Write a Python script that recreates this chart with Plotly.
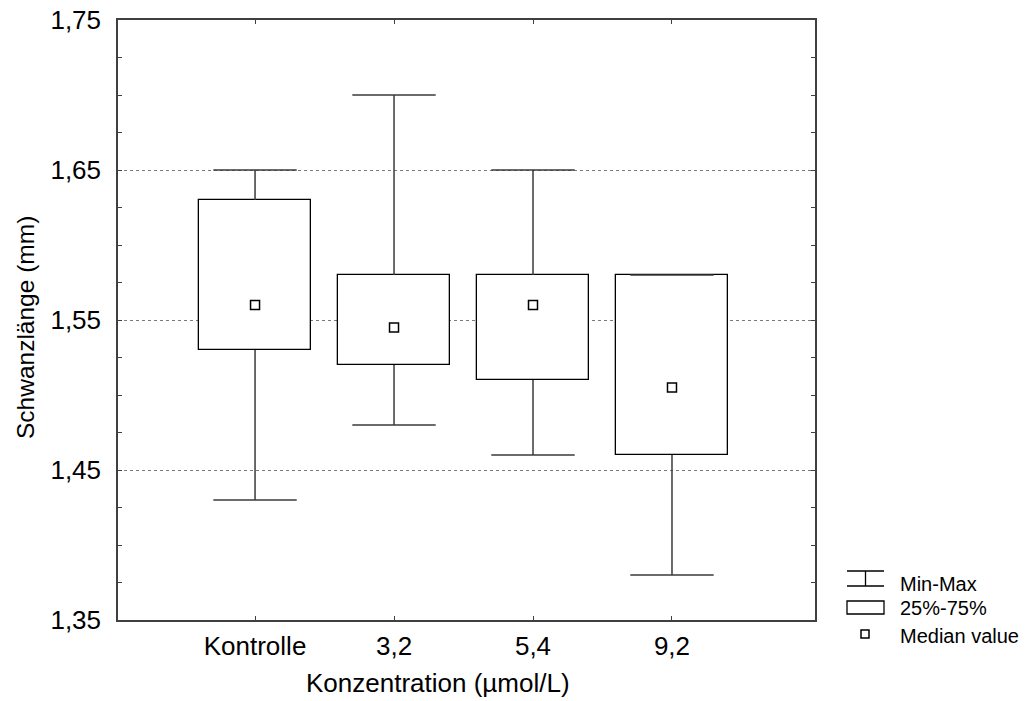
import plotly.graph_objects as go

categories = ["Kontrolle", "3,2", "5,4", "9,2"]
minimum = [1.43, 1.48, 1.46, 1.38]
q1 = [1.53, 1.52, 1.51, 1.46]
median = [1.56, 1.545, 1.56, 1.505]
q3 = [1.63, 1.58, 1.58, 1.58]
maximum = [1.65, 1.70, 1.65, 1.58]
y_ticks = [1.35, 1.45, 1.55, 1.65, 1.75]
y_ticklabels = ["1,35", "1,45", "1,55", "1,65", "1,75"]

pos = list(range(len(categories)))
BOX_W = 0.8
CAP_HW = 0.3
FONT = "Arial, Liberation Sans, sans-serif"
WCOL = "#3a3a3a"

fig = go.Figure()

# boxes (25%-75%)
fig.add_trace(go.Bar(
    x=pos, base=q1, y=[b - a for a, b in zip(q1, q3)], width=BOX_W,
    marker=dict(color="white", line=dict(color="black", width=1.3)),
    name="25%-75%", showlegend=False, hoverinfo="skip"))

# whiskers (Min-Max)
wx, wy = [], []
for i in pos:
    if maximum[i] > q3[i]:
        wx += [i, i, None]
        wy += [q3[i], maximum[i], None]
    wx += [i - CAP_HW, i + CAP_HW, None]
    wy += [maximum[i], maximum[i], None]
    if minimum[i] < q1[i]:
        wx += [i, i, None]
        wy += [q1[i], minimum[i], None]
    wx += [i - CAP_HW, i + CAP_HW, None]
    wy += [minimum[i], minimum[i], None]
fig.add_trace(go.Scatter(x=wx, y=wy, mode="lines",
                         line=dict(color=WCOL, width=1.5),
                         name="Min-Max", showlegend=False, hoverinfo="skip"))

# medians
fig.add_trace(go.Scatter(x=pos, y=median, mode="markers",
                         marker=dict(symbol="square", size=9, color="white",
                                     line=dict(color="black", width=1.5)),
                         name="Median value", showlegend=False))

# body margin is removed in the page, so figure coords == window coords
W, H = 1028, 701
L, T = 118, 20
PR, PB = 815, 620
R, B = W - PR, H - PB
PW, PH = PR - L, PB - T

def px(x):
    return (x - L) / PW

def py(y):
    return (PB - y) / PH

shapes = []
lc = dict(color="black", width=1.3)
shapes.append(dict(type="line", xref="paper", yref="paper",
                   x0=px(847), x1=px(884), y0=py(571), y1=py(571), line=lc))
shapes.append(dict(type="line", xref="paper", yref="paper",
                   x0=px(847), x1=px(884), y0=py(586), y1=py(586), line=lc))
shapes.append(dict(type="line", xref="paper", yref="paper",
                   x0=px(865.5), x1=px(865.5), y0=py(571), y1=py(586), line=lc))
shapes.append(dict(type="rect", xref="paper", yref="paper",
                   x0=px(847), x1=px(884), y0=py(601), y1=py(614),
                   line=lc, fillcolor="white"))
shapes.append(dict(type="rect", xref="paper", yref="paper",
                   x0=px(861), x1=px(869), y0=py(630), y1=py(638),
                   line=dict(color="black", width=1.5), fillcolor="white"))

LEGF = dict(family=FONT, size=20, color="black")
annotations = [
    dict(text="Min-Max", x=px(898), y=py(584), xref="paper", yref="paper",
         xanchor="left", yanchor="middle", showarrow=False, font=LEGF),
    dict(text="25%-75%", x=px(898), y=py(608), xref="paper", yref="paper",
         xanchor="left", yanchor="middle", showarrow=False, font=LEGF),
    dict(text="Median value", x=px(898), y=py(636), xref="paper", yref="paper",
         xanchor="left", yanchor="middle", showarrow=False, font=LEGF),
    dict(text="Konzentration (µmol/L)", x=px(438), y=py(683), xref="paper",
         yref="paper", xanchor="center", yanchor="middle", showarrow=False,
         font=dict(family=FONT, size=26, color="black")),
    dict(text="Schwanzlänge (mm)", x=px(25), y=py(328), xref="paper",
         yref="paper", xanchor="center", yanchor="middle", showarrow=False,
         textangle=-90, font=dict(family=FONT, size=24.5, color="black")),
]

fig.update_layout(
    width=W, height=H,
    margin=dict(l=L, r=R, t=T, b=B, autoexpand=False),
    paper_bgcolor="white", plot_bgcolor="white",
    font=dict(family=FONT, size=26, color="black"),
    showlegend=False,
    shapes=shapes,
    annotations=annotations,
    bargap=0,
)

fig.update_xaxes(
    range=[-0.986, 4.029], tickvals=pos, ticktext=categories,
    showgrid=False, zeroline=False, automargin=False,
    showline=True, linecolor="#404040", linewidth=1.5, mirror="ticks",
    ticks="inside", ticklen=4, tickcolor="#404040", tickwidth=1,
    tickfont=dict(family=FONT, size=26, color="black"),
    ticklabelstandoff=2, ticklabeloverflow="allow",
)
fig.update_yaxes(
    range=[1.35, 1.75], tickvals=y_ticks, ticktext=y_ticklabels,
    showgrid=True, gridcolor="#7a7a7a", griddash="dot", gridwidth=1,
    zeroline=False, automargin=False,
    showline=True, linecolor="#404040", linewidth=1.5, mirror="ticks",
    ticks="inside", ticklen=4, tickcolor="#404040", tickwidth=1,
    tickfont=dict(family=FONT, size=26, color="black"),
    ticklabelstandoff=10, ticklabeloverflow="allow",
    minor=dict(dtick=0.025, tick0=1.35, ticks="inside", ticklen=4,
               tickcolor="#404040", showgrid=False),
)

fig.write_html(
    "out.html",
    config={"displayModeBar": False},
    post_script="document.body.style.margin='0';document.body.style.overflow='hidden';",
)
